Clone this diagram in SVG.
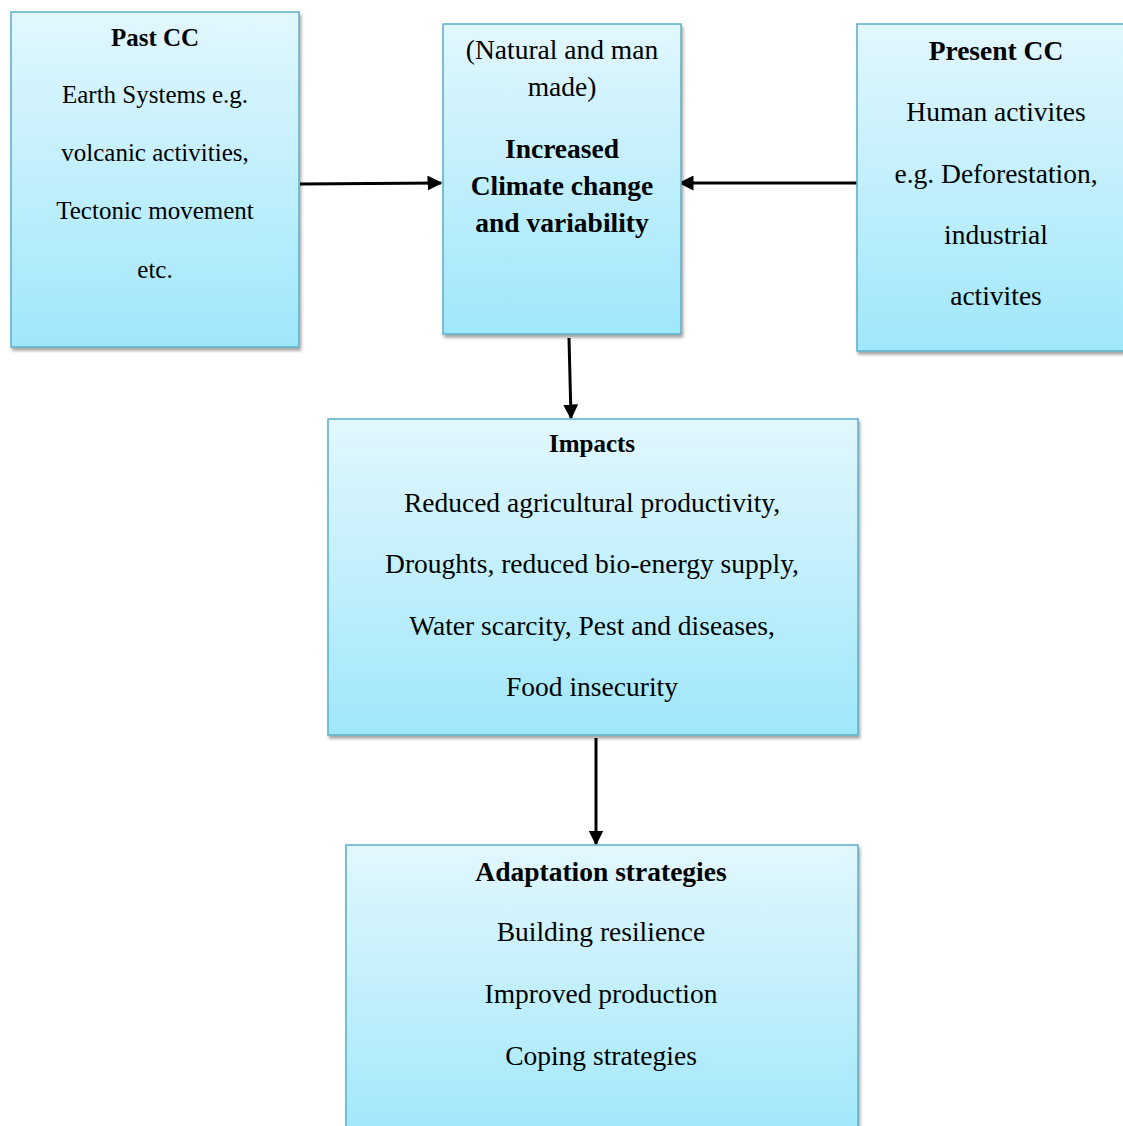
<svg xmlns="http://www.w3.org/2000/svg" width="1123" height="1126" viewBox="0 0 1123 1126">
<style>
.box{fill:url(#g);stroke:#5aafc6;stroke-width:1.5}
.t{font-family:"Liberation Serif","Times New Roman",serif;font-size:27.5px;fill:#000;text-anchor:middle}
.s{font-size:25px}
.b{font-weight:bold}
.c{stroke:#000;stroke-width:3;fill:none;marker-end:url(#ah)}
</style>
<defs>
<linearGradient id="g" x1="0" y1="0" x2="0" y2="1">
<stop offset="0" stop-color="#e2f7fd"/>
<stop offset="1" stop-color="#a0e7fb"/>
</linearGradient>
<filter id="sh" x="-5%" y="-5%" width="115%" height="115%">
<feDropShadow dx="1.5" dy="3" stdDeviation="1.5" flood-color="#000" flood-opacity="0.35"/>
</filter>
<marker id="ah" markerWidth="5" markerHeight="5" refX="4.5" refY="2.5" orient="auto" markerUnits="strokeWidth">
<path d="M0,0 L5,2.5 L0,5 Z" fill="#000"/>
</marker>
</defs>
<g id="connectors">
<line class="c" x1="300" y1="184" x2="441" y2="183"/>
<line class="c" x1="857" y1="183" x2="680" y2="183"/>
<line class="c" x1="569" y1="338" x2="571" y2="418"/>
<line class="c" x1="596" y1="738" x2="596" y2="844"/>
</g>
<g id="past">
<rect class="box" filter="url(#sh)" x="11" y="12" width="288" height="335"/>
<text class="t s b" x="155" y="46">Past CC</text>
<text class="t s" x="155" y="103">Earth Systems e.g.</text>
<text class="t s" x="155" y="161">volcanic activities,</text>
<text class="t s" x="155" y="219">Tectonic movement</text>
<text class="t s" x="155" y="278">etc.</text>
</g>
<g id="center">
<rect class="box" filter="url(#sh)" x="443" y="24" width="238" height="310"/>
<text class="t" x="562" y="59">(Natural and man</text>
<text class="t" x="562" y="96">made)</text>
<text class="t b" x="562" y="158">Increased</text>
<text class="t b" x="562" y="195">Climate change</text>
<text class="t b" x="562" y="232">and variability</text>
</g>
<g id="present">
<rect class="box" filter="url(#sh)" x="857" y="24" width="280" height="327"/>
<text class="t b" x="996" y="60">Present CC</text>
<text class="t" x="996" y="121">Human activites</text>
<text class="t" x="996" y="183">e.g. Deforestation,</text>
<text class="t" x="996" y="244">industrial</text>
<text class="t" x="996" y="305">activites</text>
</g>
<g id="impacts">
<rect class="box" filter="url(#sh)" x="328" y="419" width="530" height="316"/>
<text class="t s b" x="592" y="452">Impacts</text>
<text class="t" x="592" y="512">Reduced agricultural productivity,</text>
<text class="t" x="592" y="573">Droughts, reduced bio-energy supply,</text>
<text class="t" x="592" y="635">Water scarcity, Pest and diseases,</text>
<text class="t" x="592" y="696">Food insecurity</text>
</g>
<g id="adaptation">
<rect class="box" filter="url(#sh)" x="346" y="845" width="512" height="300"/>
<text class="t b" x="601" y="881">Adaptation strategies</text>
<text class="t" x="601" y="941">Building resilience</text>
<text class="t" x="601" y="1003">Improved production</text>
<text class="t" x="601" y="1065">Coping strategies</text>
</g>
</svg>
